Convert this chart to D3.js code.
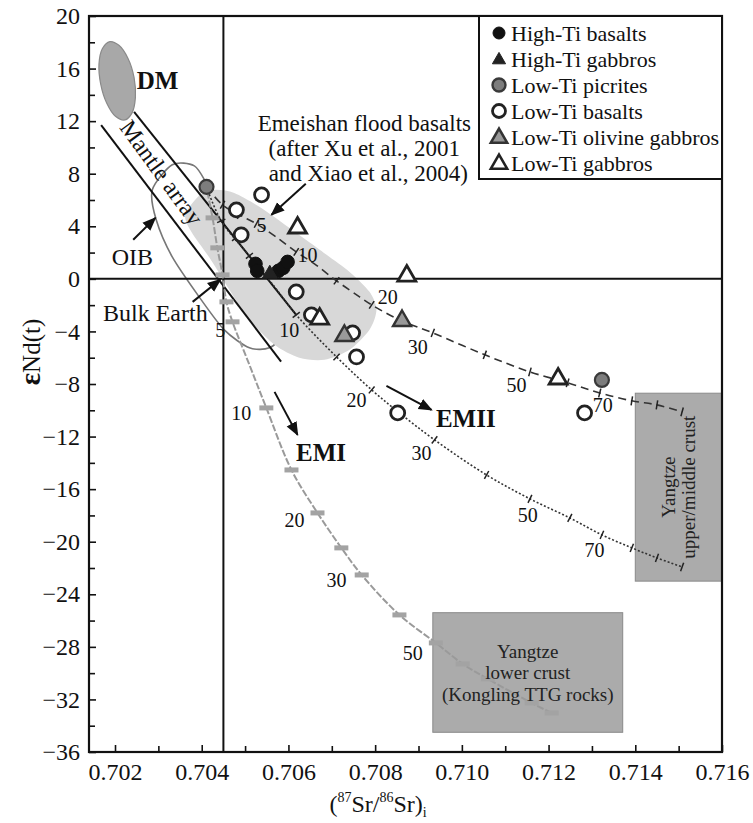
<!DOCTYPE html>
<html>
<head>
<meta charset="utf-8">
<script src="https://cdn.jsdelivr.net/npm/d3@7"></script>
<style>
  body { margin: 0; background: #fff; }
  svg, svg text { font-family: "Liberation Serif", "Times New Roman", serif; }
</style>
</head>
<body>
<svg id="chart" width="753" height="823"></svg>
<script>
// axis ticks
const xTicks = [0.702, 0.704, 0.706, 0.708, 0.710, 0.712, 0.714, 0.716];
const xMinor = [0.703, 0.705, 0.707, 0.709, 0.711, 0.713, 0.715];
const yTicks = [-36, -32, -28, -24, -20, -16, -12, -8, -4, 0, 4, 8, 12, 16, 20];
const yMinor = [-34, -30, -26, -22, -18, -14, -10, -6, -2, 2, 6, 10, 14, 18];

// samples [87Sr/86Sr, eNd]
const highTiBasalts = [[0.70524, 1.14], [0.70528, 0.61], [0.70577, 0.61], [0.70588, 0.84], [0.70598, 1.29]];
const highTiGabbros = [[0.70557, 0.46]];
const lowTiPicrites = [[0.70411, 7.0], [0.71323, -7.69]];
const lowTiBasalts = [[0.70538, 6.39], [0.70480, 5.25], [0.70491, 3.35], [0.70618, -0.99], [0.70653, -2.74],
  [0.70748, -4.11], [0.70757, -5.94], [0.70852, -10.2], [0.71283, -10.2]];
const lowTiOlGabbros = [[0.70862, -3.12], [0.70729, -4.26]];
const lowTiGabbros = [[0.70621, 3.96], [0.70873, 0.30], [0.70672, -2.97], [0.71222, -7.53]];

// fields
const dmField = [[0.70188, 18.05], [0.70209, 17.77], [0.70230, 16.77], [0.70244, 15.31], [0.70247, 13.79], [0.70239, 12.61],
  [0.70223, 12.09], [0.70201, 12.37], [0.70181, 13.36], [0.70167, 14.82], [0.70163, 16.35], [0.70171, 17.53]];
const oibField = [[0.70332, 8.68], [0.70383, 8.60], [0.70413, 7.15], [0.70445, 5.25], [0.70487, 2.97], [0.70528, 0.30],
  [0.70565, -2.36], [0.70584, -4.26], [0.70556, -5.25], [0.70510, -5.25], [0.70452, -3.88], [0.70394, -1.37],
  [0.70332, 1.67], [0.70295, 4.49], [0.70286, 6.77]];
const emeishanField = [[0.70394, 6.32], [0.70429, 6.77], [0.70475, 6.54], [0.70533, 5.48], [0.70602, 3.88], [0.70672, 2.21],
  [0.70741, 0.53], [0.70787, -0.99], [0.70803, -2.36], [0.70787, -3.88], [0.70741, -5.40], [0.70683, -6.16],
  [0.70625, -6.01], [0.70568, -5.02], [0.70510, -3.12], [0.70464, -0.84], [0.70418, 1.60], [0.70376, 3.58], [0.70362, 4.87]];
const mantleUpper = [[0.70244, 12.7], [0.70618, -2.74]];
const mantleLower = [[0.70168, 11.7], [0.70583, -6.3]];
const bulkEarth = [0.7045, 0];
const upperCrustBox = [[0.714, -8.7], [0.716, -23.0]];
const lowerCrustBox = [[0.70933, -25.4], [0.71371, -34.5]];

// mixing curves
const dashedCurve = [[0.70411, 7.0], [0.70448, 5.63], [0.70487, 4.87], [0.70526, 4.19], [0.70568, 3.27], [0.70618, 2.05],
  [0.7066, 1.14], [0.70711, -0.15], [0.70764, -1.37], [0.70792, -1.98], [0.70856, -3.12], [0.70933, -4.11],
  [0.71053, -5.78], [0.71157, -7.08], [0.71244, -7.91], [0.71318, -8.68], [0.71392, -9.28], [0.7145, -9.59], [0.71508, -10.12]];
const dashedTicks = [[0.70448, 5.63], [0.70487, 4.87], [0.70526, 4.19], [0.70618, 2.05], [0.70711, -0.15], [0.70792, -1.98],
  [0.70856, -3.12], [0.70933, -4.11], [0.71053, -5.78], [0.71157, -7.08], [0.71244, -7.91], [0.71318, -8.68],
  [0.71392, -9.28], [0.7145, -9.59], [0.71508, -10.12]];
const dashedLabels = [["5", 0.70538, 4.11], ["10", 0.70644, 1.83], ["20", 0.70829, -1.37], ["30", 0.70898, -5.18],
  ["50", 0.71126, -8.07], ["70", 0.71325, -9.59]];

const dottedCurve = [[0.70411, 7.0], [0.70445, 4.41], [0.7051, 1.75], [0.70568, -0.61], [0.70618, -2.74], [0.70711, -5.94],
  [0.70792, -8.45], [0.70856, -10.2], [0.70937, -12.25], [0.71057, -14.92], [0.71157, -16.74], [0.71249, -18.19],
  [0.71323, -19.48], [0.71392, -20.47], [0.7145, -21.23], [0.71508, -21.92]];
const dottedTicks = [[0.70445, 4.41], [0.70478, 3.1], [0.7051, 1.75], [0.70618, -2.74], [0.70711, -5.94], [0.70792, -8.45],
  [0.70856, -10.2], [0.70937, -12.25], [0.71057, -14.92], [0.71157, -16.74], [0.71249, -18.19], [0.71323, -19.48],
  [0.71392, -20.47], [0.7145, -21.23], [0.71508, -21.92]];
const dottedLabels = [["10", 0.70602, -3.88], ["20", 0.70757, -9.21], ["30", 0.70907, -13.24], ["50", 0.71152, -17.96],
  ["70", 0.71306, -20.62]];

const emiCurve = [[0.70413, 6.62], [0.70425, 4.64], [0.70436, 2.36], [0.70448, 0.30], [0.70457, -1.75], [0.70471, -3.27],
  [0.7051, -6.54], [0.70549, -9.82], [0.70607, -14.54], [0.70667, -17.81], [0.70722, -20.47], [0.70769, -22.53],
  [0.70856, -25.57], [0.7094, -27.7], [0.71002, -29.3], [0.7106, -30.44], [0.71161, -32.27], [0.71207, -33.03]];
const emiBars = [[0.70425, 4.64], [0.70436, 2.36], [0.70448, 0.30], [0.70457, -1.75], [0.70471, -3.27], [0.70549, -9.82],
  [0.70607, -14.54], [0.70667, -17.81], [0.70722, -20.47], [0.70769, -22.53], [0.70856, -25.57], [0.7094, -27.7],
  [0.71002, -29.3], [0.7106, -30.44], [0.71161, -32.27], [0.71207, -33.03]];
const emiLabels = [["5", 0.70443, -3.88], ["10", 0.70491, -10.2], ["20", 0.70614, -18.34], ["30", 0.70711, -22.91],
  ["50", 0.70887, -28.46]];

const legendItems = ["High-Ti basalts", "High-Ti gabbros", "Low-Ti picrites", "Low-Ti basalts", "Low-Ti olivine gabbros", "Low-Ti gabbros"];

const FONT = "Liberation Serif, Times New Roman, serif";
const margin = {top: 16, right: 31, bottom: 71, left: 89};
const width = 753 - margin.left - margin.right;
const height = 823 - margin.top - margin.bottom;

const svg = d3.select("#chart").attr("font-family", FONT);
const defs = svg.append("defs");
defs.append("marker").attr("id", "arrow").attr("viewBox", "0 0 10 10")
  .attr("refX", 9).attr("refY", 5).attr("markerWidth", 7).attr("markerHeight", 7)
  .attr("orient", "auto-start-reverse")
  .append("path").attr("d", "M0,1 L10,5 L0,9 z").attr("fill", "#111");
defs.append("clipPath").attr("id", "clip").append("rect").attr("width", width).attr("height", height);

const g = svg.append("g").attr("transform", "translate(" + margin.left + "," + margin.top + ")");

const x = d3.scaleLinear().domain([0.7014, 0.716]).range([0, width]);
const y = d3.scaleLinear().domain([-36, 20]).range([height, 0]);

const line = d3.line().x(d => x(d[0])).y(d => y(d[1]));
const smooth = d3.line().x(d => x(d[0])).y(d => y(d[1])).curve(d3.curveCatmullRom);
const closed = d3.line().x(d => x(d[0])).y(d => y(d[1])).curve(d3.curveCardinalClosed.tension(0.2));
const oval = d3.line().x(d => x(d[0])).y(d => y(d[1])).curve(d3.curveCatmullRomClosed);

const plot = g.append("g").attr("clip-path", "url(#clip)");

// fields
plot.append("path").attr("d", closed(oibField)).attr("fill", "none").attr("stroke", "#777").attr("stroke-width", 1.6);
plot.append("path").attr("d", closed(emeishanField)).attr("fill", "#d8d8d8").attr("stroke", "none");
plot.append("path").attr("d", oval(dmField)).attr("fill", "#a8a8a8").attr("stroke", "#8a8a8a").attr("stroke-width", 1.2);

// crust boxes
[upperCrustBox, lowerCrustBox].forEach(b => {
  plot.append("rect")
    .attr("x", x(b[0][0])).attr("y", y(b[0][1]))
    .attr("width", x(b[1][0]) - x(b[0][0])).attr("height", y(b[1][1]) - y(b[0][1]))
    .attr("fill", "#ababab").attr("stroke", "#8a8a8a").attr("stroke-width", 1);
});

// reference lines
plot.append("line").attr("x1", 0).attr("x2", width).attr("y1", y(0)).attr("y2", y(0))
  .attr("stroke", "#111").attr("stroke-width", 2);
plot.append("line").attr("x1", x(bulkEarth[0])).attr("x2", x(bulkEarth[0])).attr("y1", 0).attr("y2", height)
  .attr("stroke", "#111").attr("stroke-width", 2);

// mantle array
[mantleUpper, mantleLower].forEach(m => {
  plot.append("path").attr("d", line(m)).attr("stroke", "#111").attr("stroke-width", 2).attr("fill", "none");
});

// mixing curves
function tickMarks(curve, ticks, len) {
  const pts = curve.map(d => [x(d[0]), y(d[1])]);
  return ticks.map(t => {
    const p = [x(t[0]), y(t[1])];
    let best = 0, bd = Infinity;
    for (let i = 0; i < pts.length - 1; i++) {
      const mx = (pts[i][0] + pts[i + 1][0]) / 2, my = (pts[i][1] + pts[i + 1][1]) / 2;
      const dd = (mx - p[0]) ** 2 + (my - p[1]) ** 2;
      if (dd < bd) { bd = dd; best = i; }
    }
    const dx = pts[best + 1][0] - pts[best][0], dy = pts[best + 1][1] - pts[best][1];
    const n = Math.hypot(dx, dy);
    const nx = -dy / n * len / 2, ny = dx / n * len / 2;
    return {x1: p[0] - nx, y1: p[1] - ny, x2: p[0] + nx, y2: p[1] + ny};
  });
}

plot.append("path").attr("d", smooth(emiCurve)).attr("fill", "none")
  .attr("stroke", "#9a9a9a").attr("stroke-width", 2).attr("stroke-dasharray", "7,2");
plot.selectAll(".emibar").data(emiBars).enter().append("rect")
  .attr("class", "emibar")
  .attr("x", d => x(d[0]) - 7).attr("y", d => y(d[1]) - 2.5)
  .attr("width", 14).attr("height", 5).attr("fill", "#a3a3a3");

plot.append("path").attr("d", smooth(dottedCurve)).attr("fill", "none")
  .attr("stroke", "#333").attr("stroke-width", 1.6).attr("stroke-dasharray", "2,2");
plot.selectAll(".dottick").data(tickMarks(dottedCurve, dottedTicks, 9)).enter().append("line")
  .attr("class", "dottick")
  .attr("x1", d => d.x1).attr("y1", d => d.y1).attr("x2", d => d.x2).attr("y2", d => d.y2)
  .attr("stroke", "#222").attr("stroke-width", 1.5);

plot.append("path").attr("d", smooth(dashedCurve)).attr("fill", "none")
  .attr("stroke", "#333").attr("stroke-width", 1.6).attr("stroke-dasharray", "8,5");
plot.selectAll(".dashtick").data(tickMarks(dashedCurve, dashedTicks, 9)).enter().append("line")
  .attr("class", "dashtick")
  .attr("x1", d => d.x1).attr("y1", d => d.y1).attr("x2", d => d.x2).attr("y2", d => d.y2)
  .attr("stroke", "#222").attr("stroke-width", 1.5);

// curve labels
plot.selectAll(".clabel").data(dashedLabels.concat(dottedLabels, emiLabels)).enter().append("text")
  .attr("class", "clabel")
  .attr("x", d => x(d[1])).attr("y", d => y(d[2])).attr("dy", "0.35em")
  .attr("text-anchor", "middle").attr("font-size", 20).attr("fill", "#111")
  .text(d => d[0]);

// crust box texts
const ux = (x(upperCrustBox[0][0]) + x(upperCrustBox[1][0])) / 2;
const uy = (y(upperCrustBox[0][1]) + y(upperCrustBox[1][1])) / 2;
const ut = plot.append("text").attr("transform", "translate(" + ux + "," + uy + ") rotate(-90)")
  .attr("text-anchor", "middle").attr("font-size", 19).attr("fill", "#222");
ut.append("tspan").attr("x", 0).attr("y", -4).text("Yangtze");
ut.append("tspan").attr("x", 0).attr("y", 16).text("upper/middle crust");

const lx = (x(lowerCrustBox[0][0]) + x(lowerCrustBox[1][0])) / 2;
const ly = y(lowerCrustBox[0][1]);
const lt = plot.append("text").attr("text-anchor", "middle").attr("font-size", 19).attr("fill", "#222");
lt.append("tspan").attr("x", lx).attr("y", ly + 45).text("Yangtze");
lt.append("tspan").attr("x", lx).attr("y", ly + 66).text("lower crust");
lt.append("tspan").attr("x", lx).attr("y", ly + 88).text("(Kongling TTG rocks)");

// annotations
const arrows = [
  [[0.70640, 7.23], [0.70561, 4.87]],
  [[0.70242, 2.97], [0.70293, 4.64]],
  [[0.70379, -1.75], [0.70443, -0.05]],
  [[0.70568, -8.6], [0.70621, -11.87]],
  [[0.70826, -8.14], [0.70930, -9.97]]
];
arrows.forEach(a => {
  plot.append("path").attr("d", line(a)).attr("stroke", "#111").attr("stroke-width", 2)
    .attr("fill", "none").attr("marker-end", "url(#arrow)");
});

const labels = [
  {t: "DM", p: [0.70298, 15.14], size: 25, bold: true},
  {t: "OIB", p: [0.70240, 1.67], size: 24},
  {t: "Bulk Earth", p: [0.70293, -2.59], size: 24},
  {t: "EMI", p: [0.70675, -13.17], size: 25, bold: true},
  {t: "EMII", p: [0.71009, -10.58], size: 25, bold: true}
];
labels.forEach(l => {
  plot.append("text").attr("x", x(l.p[0])).attr("y", y(l.p[1])).attr("dy", "0.35em")
    .attr("text-anchor", "middle").attr("font-size", l.size).attr("fill", "#111")
    .attr("font-weight", l.bold ? "bold" : "normal").text(l.t);
});
plot.append("text")
  .attr("transform", "translate(" + x(0.70308) + "," + y(8.1) + ") rotate(54)")
  .attr("dy", "0.35em").attr("text-anchor", "middle").attr("font-size", 24).attr("fill", "#111")
  .text("Mantle array");

const emt = plot.append("text").attr("text-anchor", "middle").attr("font-size", 23).attr("fill", "#111");
[["Emeishan flood basalts", 11.87], ["(after Xu et al., 2001", 9.97], ["and Xiao et al., 2004)", 8.07]].forEach((s, i) => {
  emt.append("tspan").attr("x", x(0.70775) + (i === 2 ? 4 : 0)).attr("y", y(s[1])).attr("dy", "0.35em").text(s[0]);
});

// sample symbols
const tri = d3.symbol().type(d3.symbolTriangle);
function circles(data, fill, stroke, sw, r) {
  plot.append("g").selectAll("circle").data(data).enter().append("circle")
    .attr("cx", d => x(d[0])).attr("cy", d => y(d[1])).attr("r", r)
    .attr("fill", fill).attr("stroke", stroke).attr("stroke-width", sw);
}
function triangles(data, fill, stroke, sw, size) {
  plot.append("g").selectAll("path").data(data).enter().append("path")
    .attr("transform", d => "translate(" + x(d[0]) + "," + (y(d[1]) + 1) + ")")
    .attr("d", tri.size(size)).attr("fill", fill).attr("stroke", stroke).attr("stroke-width", sw)
    .attr("stroke-linejoin", "miter");
}
circles(lowTiBasalts, "#fff", "#222", 2.8, 7);
triangles(lowTiGabbros, "#fff", "#222", 2.8, 140);
triangles(lowTiOlGabbros, "#999", "#333", 2.4, 140);
circles(lowTiPicrites, "#7d7d7d", "#3a3a3a", 2.2, 7);
circles(highTiBasalts, "#111", "#111", 1, 6.8);
triangles(highTiGabbros, "#222", "#222", 1, 95);

// axes
const axL = g.append("g").attr("font-family", FONT)
  .call(d3.axisLeft(y).tickValues(yTicks).tickSize(-7).tickPadding(9).tickFormat(d3.format("d")));
g.append("g").call(d3.axisLeft(y).tickValues(yMinor).tickSize(-6).tickFormat(""));
const axB = g.append("g").attr("transform", "translate(0," + height + ")").attr("font-family", FONT)
  .call(d3.axisBottom(x).tickValues(xTicks).tickSize(-7).tickPadding(9).tickFormat(d3.format(".3f")));
g.append("g").attr("transform", "translate(0," + height + ")")
  .call(d3.axisBottom(x).tickValues(xMinor).tickSize(-6).tickFormat(""));
g.selectAll(".domain").remove();
g.selectAll(".tick line").attr("stroke", "#111").attr("stroke-width", 1.6);
axL.attr("font-family", FONT).attr("font-size", 24);
axB.attr("font-family", FONT).attr("font-size", 24);
g.selectAll(".tick text").attr("font-family", FONT).attr("font-size", 24).attr("fill", "#111");
axB.selectAll(".tick text").attr("dy", "0.8em");

g.append("rect").attr("width", width).attr("height", height).attr("fill", "none")
  .attr("stroke", "#111").attr("stroke-width", 2.2);

// axis titles
const yl = svg.append("text").attr("transform", "translate(40," + 352 + ") rotate(-90)")
  .attr("text-anchor", "middle").attr("font-size", 25).attr("fill", "#111");
yl.append("tspan").attr("font-weight", "bold").attr("font-size", 29).text("ε");
yl.append("tspan").text("Nd(t)");

const xl = svg.append("text").attr("x", 378).attr("y", 812).attr("text-anchor", "middle")
  .attr("font-size", 24).attr("fill", "#111");
xl.append("tspan").text("(");
xl.append("tspan").attr("font-size", 14).attr("dy", -10).text("87");
xl.append("tspan").attr("dy", 10).text("Sr/");
xl.append("tspan").attr("font-size", 14).attr("dy", -10).text("86");
xl.append("tspan").attr("dy", 10).text("Sr)");
xl.append("tspan").attr("font-size", 14).attr("dy", 5).text("i");

// legend
const lgX = 479 - margin.left, lgW = width - lgX, lgH = 179 - margin.top;
const lg = g.append("g").attr("transform", "translate(" + lgX + ",0)");
lg.append("rect").attr("width", lgW).attr("height", lgH).attr("fill", "#fff").attr("stroke", "#111").attr("stroke-width", 2);
const lgStyles = [
  {type: "c", fill: "#111", stroke: "#111", sw: 1, r: 6},
  {type: "t", fill: "#222", stroke: "#222", sw: 1, s: 75},
  {type: "c", fill: "#7d7d7d", stroke: "#3a3a3a", sw: 2.4, r: 6.5},
  {type: "c", fill: "#fff", stroke: "#222", sw: 2.8, r: 6.5},
  {type: "t", fill: "#999", stroke: "#333", sw: 2.6, s: 115},
  {type: "t", fill: "#fff", stroke: "#222", sw: 2.6, s: 115}
];
legendItems.forEach((name, i) => {
  const row = lg.append("g").attr("transform", "translate(0," + (17 + i * 26) + ")");
  const st = lgStyles[i];
  if (st.type === "c") {
    row.append("circle").attr("cx", 20).attr("cy", 0).attr("r", st.r).attr("fill", st.fill)
      .attr("stroke", st.stroke).attr("stroke-width", st.sw);
  } else {
    row.append("path").attr("transform", "translate(20,1)").attr("d", tri.size(st.s)).attr("fill", st.fill)
      .attr("stroke", st.stroke).attr("stroke-width", st.sw);
  }
  row.append("text").attr("x", 32).attr("y", 0).attr("dy", "0.35em").attr("font-size", 22)
    .attr("fill", "#111").text(name);
});
</script>
</body>
</html>
